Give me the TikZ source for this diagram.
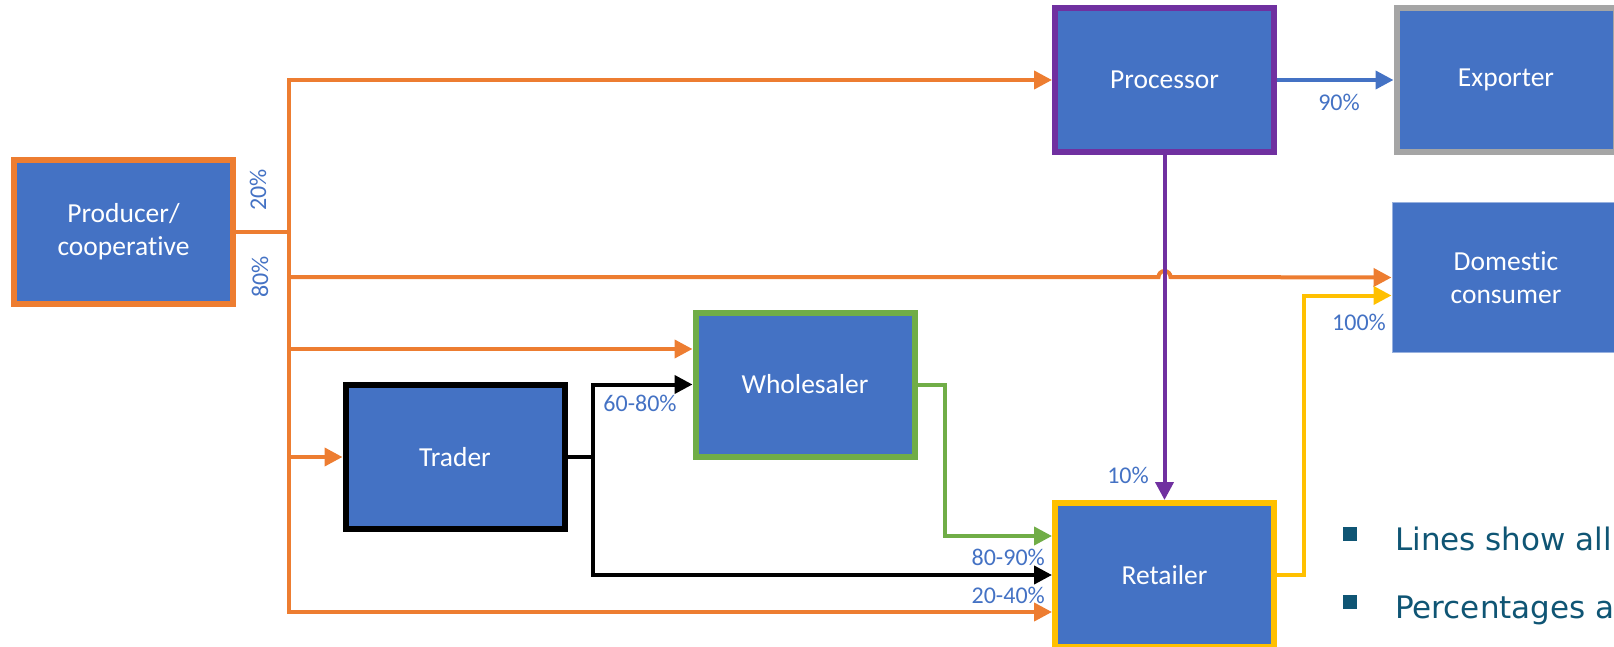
\documentclass[tikz,border=0pt]{standalone}
\usepackage{fontspec}
\setmainfont{Carlito}[Ligatures=NoCommon]
\newfontfamily\notefont{DejaVu Sans}
\usetikzlibrary{arrows.meta,calc,positioning}
\definecolor{boxblue}{HTML}{4472C4}
\definecolor{lineorange}{HTML}{ED7D31}
\definecolor{linepurple}{HTML}{7030A0}
\definecolor{linegreen}{HTML}{70AD47}
\definecolor{linegold}{HTML}{FFC000}
\definecolor{linegray}{HTML}{A5A5A5}
\definecolor{noteteal}{HTML}{0F5574}
\tikzset{
  % actors in the chain
  box/.style={draw,fill=boxblue,rectangle,minimum width=219pt,minimum height=144pt,inner sep=0pt,line width=6pt,text=white,font=\fontsize{27.5}{33}\selectfont,align=center},
  box-o/.style={box,draw=lineorange},
  box-p/.style={box,draw=linepurple},
  box-g/.style={box,draw=linegray},
  box-k/.style={box,draw=black},
  box-w/.style={box,draw=linegreen},
  box-y/.style={box,draw=linegold},
  box-d/.style={box,draw=boxblue!55!white,line width=1pt,minimum width=228pt,minimum height=149pt},
  % flows
  flow/.style={-{Triangle[length=18pt,width=18pt]},line width=4pt},
  oflow/.style={flow,color=lineorange},
  kflow/.style={flow,color=black},
  pflow/.style={flow,color=linepurple},
  bflow/.style={flow,color=boxblue},
  gflow/.style={flow,color=linegreen},
  yflow/.style={flow,color=linegold},
  pct/.style={text=boxblue,font=\fontsize{24}{28}\selectfont,inner sep=0pt},
  bul/.style={fill=noteteal,rectangle,minimum size=14pt,inner sep=0pt},
  note/.style={text=noteteal,font=\notefont\fontsize{31}{36}\selectfont,inner sep=0pt},
}
\begin{document}
\begin{tikzpicture}[x=1pt,y=-1pt]
  \clip (0,0) rectangle (1614,647);
  \node[box-o] (prod) at (123.5,232) {Producer/\\cooperative};
  \node[box-p] (proc) at (1164.5,80) {Processor};
  \node[box-g] (expo) at (1506,80) {Exporter};
  \node[box-d] (dome) at (1506,277.5) {Domestic\\consumer};
  \node[box-w] (whole) at (805,384.5) {Wholesaler};
  \node[box-k] (trad) at (455,457) {Trader};
  \node[box-y] (ret) at (1164.5,575) {Retailer};

  % points on the orange trunk
  \coordinate (split) at (289,232);
  \coordinate (t-dom) at (289,277);
  \coordinate (t-whole) at (289,349);
  \coordinate (t-trad) at (289,457);
  \coordinate (t-ret) at (289,612);
  \coordinate (cross) at (proc.south |- t-dom);
  \coordinate (k-split) at (593,457);

  \draw[line width=4pt,lineorange] (prod.east) -- (split);
  \draw[oflow] (split) |- (proc.west);
  \draw[oflow] (split) |- (ret.west |- t-ret);
  \draw[oflow] (t-dom) -- ([xshift=-6pt]cross) arc[start angle=180,end angle=0,radius=6pt] -- (dome.west);
  \draw[oflow] (t-whole) -- (t-whole -| whole.west);
  \draw[oflow] (t-trad) -- (trad.west);

  \draw[line width=4pt] (trad.east) -- (k-split);
  \draw[kflow] (k-split) |- (whole.west);
  \draw[kflow] (k-split) |- (ret.west);
  \draw[gflow] (whole.east) -- ++(27,0) |- ($(ret.west)+(0,-39)$);
  \draw[pflow] (proc.south) -- (ret.north);
  \draw[bflow] (proc.east) -- (expo.west);
  \draw[yflow] (ret.east) -- ++(27,0) |- ($(dome.west)+(0,18)$);

  \node[pct,rotate=90] (p-20) at (258,190) {20\%};
  \node[pct,rotate=90] (p-80) at (260,277) {80\%};
  \node[pct] (p-90) at (1339,102) {90\%};
  \node[pct] (p-10) at (1128,475) {10\%};
  \node[pct] (p-6080) at (640,403) {60-80\%};
  \node[pct,anchor=east] (p-8090) at (1045,557) {80-90\%};
  \node[pct,anchor=east] (p-2040) at (1045,595) {20-40\%};
  \node[pct,anchor=west] (p-100) at (1332,322) {100\%};

  \node[bul] (b-1) at (1350,534) {};
  \node[note,anchor=base west] (n-1) at (1395,550) {Lines show all};
  \node[bul] (b-2) at (1350,602) {};
  \node[note,anchor=base west] (n-2) at (1395,618) {Percentages a};
\end{tikzpicture}
\end{document}
